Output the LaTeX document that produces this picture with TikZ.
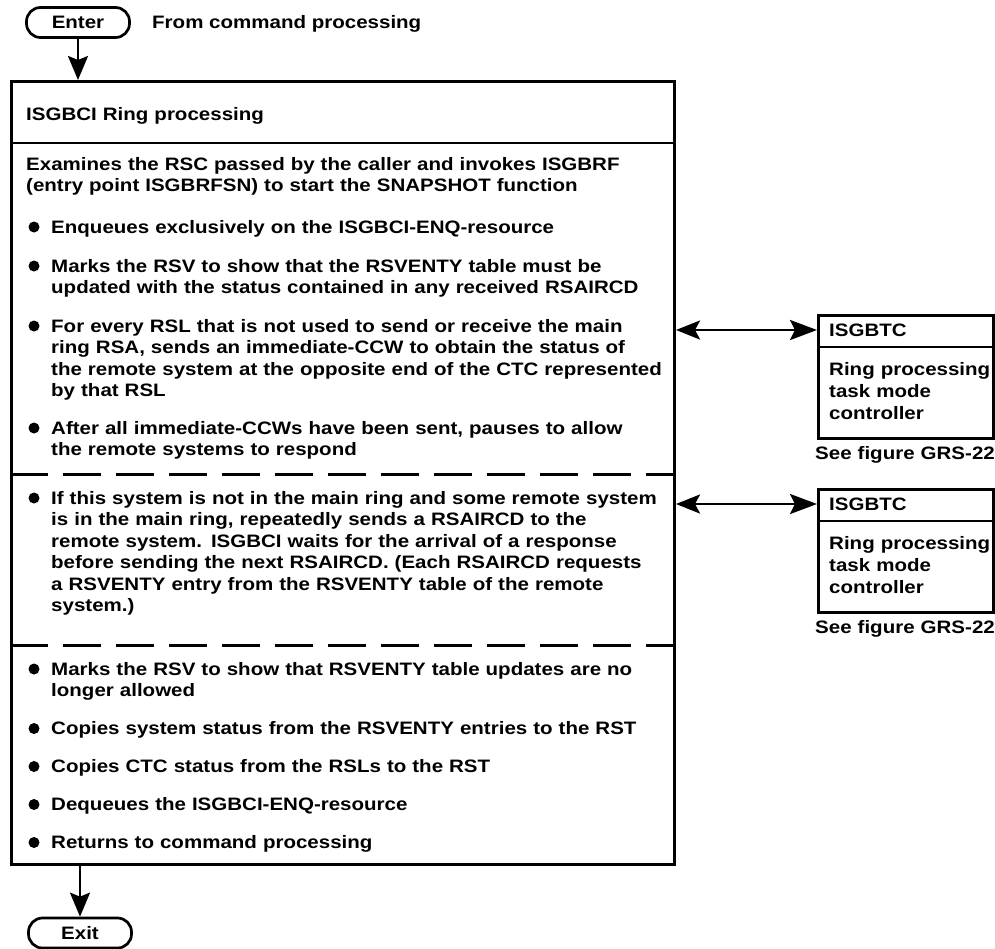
\documentclass[tikz,border=0pt]{standalone}
\usepackage{fontspec}
\setmainfont{Liberation Sans}[FakeStretch=1.14]
\usetikzlibrary{arrows.meta}

\begin{document}
\begin{tikzpicture}[x=1pt,y=-1pt,
  every node/.style={font={\bfseries\fontsize{18}{21.5}\selectfont}, inner sep=0pt},
  txt/.style={anchor=base west, text width=700pt, align=left},
  terminal/.style={draw, line width=2.7pt, rounded corners=14pt,
    minimum width=103pt, minimum height=30pt},
  frame/.style={draw, line width=3pt, anchor=north west},
  rule/.style={line width=2.4pt},
  divider/.style={line width=3pt, dash pattern=on 38pt off 15pt},
  dot/.style={circle, fill, minimum size=11pt},
  flow/.style={line width=2.6pt, -{Stealth[length=24pt,width=20pt,inset=4pt]}},
  link/.style={line width=2.8pt,
    {Stealth[length=24pt,width=19pt,inset=5pt]}-{Stealth[length=27pt,width=20pt,inset=5pt]}}]

\useasboundingbox (0,0) rectangle (995,948);
\fill[white] (0,0) rectangle (995,948);

% entry terminal
\node[terminal] (enter) at (78,22.5) {Enter};
\node[anchor=base west] (from) at (152,28.5) {From command processing};

% main processing box
\node[frame, minimum width=663pt, minimum height=783pt] (main) at (10,80) {};
\draw[rule] (10,143) -- (673,143);
\draw[divider] (10,474) -- (673,474);
\draw[divider] (10,645) -- (673,645);

\node[txt] (hdr) at (26,120) {ISGBCI Ring processing};
\node[txt] (intro) at (26,170) {Examines the RSC passed by the caller and invokes ISGBRF\\(entry point ISGBRFSN) to start the SNAPSHOT function};

\node[dot] (d1) at (34,227) {};
\node[txt] (s1) at (51,233) {Enqueues exclusively on the ISGBCI-ENQ-resource};
\node[dot] (d2) at (34,266) {};
\node[txt] (s2) at (51,272) {Marks the RSV to show that the RSVENTY table must be\\updated with the status contained in any received RSAIRCD};
\node[dot] (d3) at (34,326) {};
\node[txt] (s3) at (51,332) {For every RSL that is not used to send or receive the main\\ring RSA, sends an immediate-CCW to obtain the status of\\the remote system at the opposite end of the CTC represented\\by that RSL};
\node[dot] (d4) at (34,428) {};
\node[txt] (s4) at (51,434) {After all immediate-CCWs have been sent, pauses to allow\\the remote systems to respond};

\node[dot] (d5) at (34,498) {};
\node[txt] (s5) at (51,504) {If this system is not in the main ring and some remote system\\is in the main ring, repeatedly sends a RSAIRCD to the\\remote system. ISGBCI waits for the arrival of a response\\before sending the next RSAIRCD. (Each RSAIRCD requests\\a RSVENTY entry from the RSVENTY table of the remote\\system.)};

\node[dot] (d6) at (34,669) {};
\node[txt] (s6) at (51,675) {Marks the RSV to show that RSVENTY table updates are no\\longer allowed};
\node[dot] (d7) at (34,728.5) {};
\node[txt] (s7) at (51,734.5) {Copies system status from the RSVENTY entries to the RST};
\node[dot] (d8) at (34,766.5) {};
\node[txt] (s8) at (51,772.5) {Copies CTC status from the RSLs to the RST};
\node[dot] (d9) at (34,804.5) {};
\node[txt] (s9) at (51,810.5) {Dequeues the ISGBCI-ENQ-resource};
\node[dot] (d10) at (34,842.5) {};
\node[txt] (s10) at (51,848.5) {Returns to command processing};

% task mode controller boxes
\node[frame, minimum width=175pt, minimum height=123pt] (c1) at (817,314) {};
\draw[rule] (817,347) -- (992,347);
\node[txt] (c1t) at (829,336) {ISGBTC};
\node[txt, font={\bfseries\fontsize{18}{22}\selectfont}] (c1b) at (829,375) {Ring processing\\task mode\\controller};
\node[txt] (c1s) at (815,459) {See figure GRS-22};

\node[frame, minimum width=175pt, minimum height=123pt] (c2) at (817,488) {};
\draw[rule] (817,521) -- (992,521);
\node[txt] (c2t) at (829,510) {ISGBTC};
\node[txt, font={\bfseries\fontsize{18}{22}\selectfont}] (c2b) at (829,549) {Ring processing\\task mode\\controller};
\node[txt] (c2s) at (815,633) {See figure GRS-22};

% exit terminal
\node[terminal] (exit) at (80,933) {Exit};

% connectors
\coordinate (lvl1) at (0,330);
\coordinate (lvl2) at (0,504);
\draw[flow] (enter.south) -- (enter.south |- main.north);
\draw[flow] (exit.north |- main.south) -- (exit.north);
\draw[link] (main.east |- lvl1) -- (c1.west |- lvl1);
\draw[link] (main.east |- lvl2) -- (c2.west |- lvl2);

\end{tikzpicture}
\end{document}
